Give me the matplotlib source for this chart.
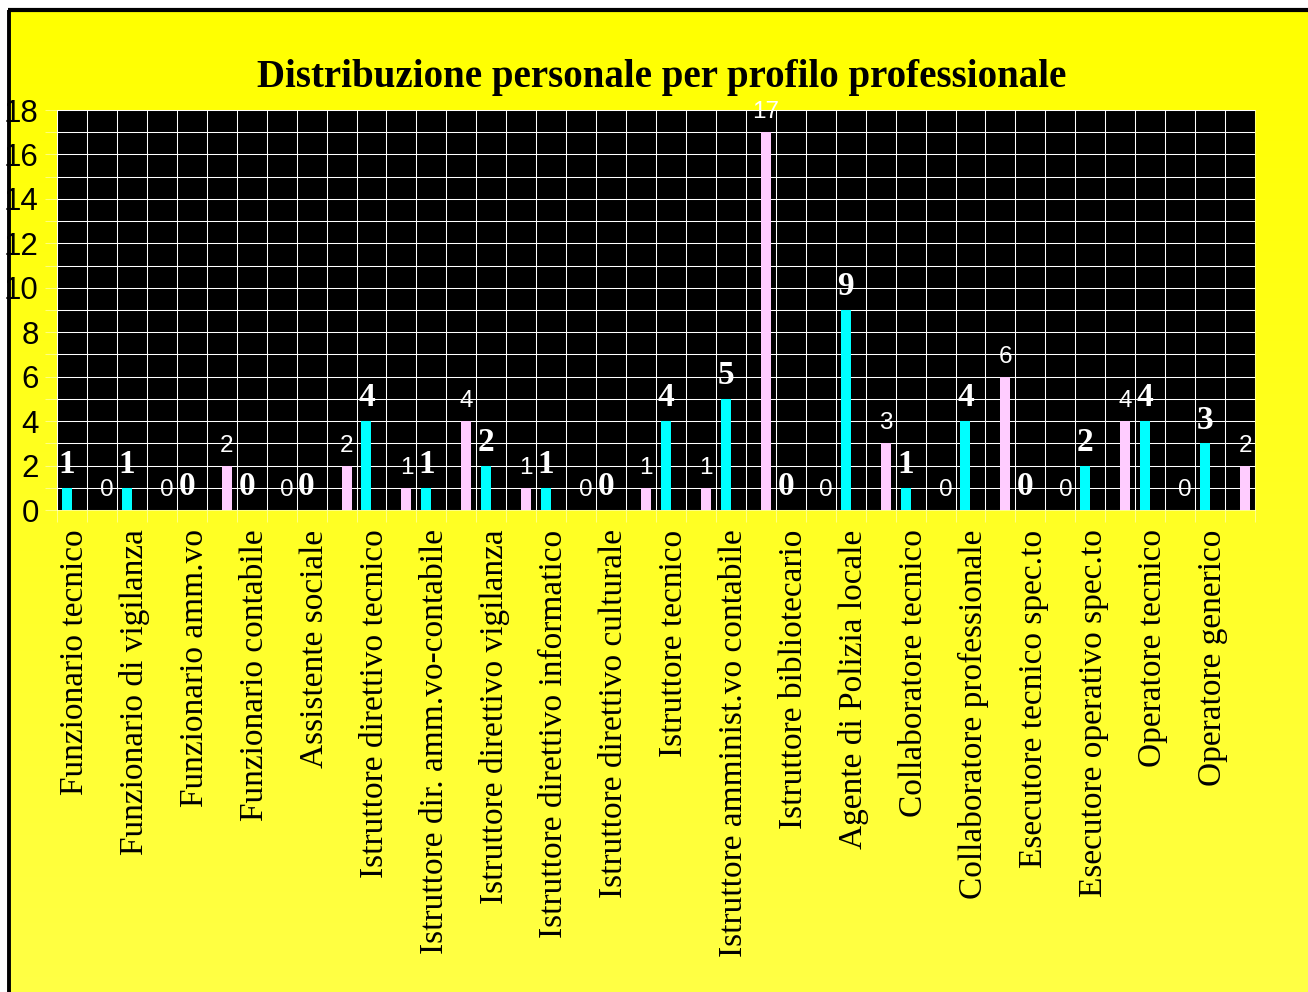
import numpy as np
import matplotlib
matplotlib.use("Agg")
import matplotlib.pyplot as plt
from matplotlib.lines import Line2D

categories = [
    "Funzionario tecnico", "Funzionario di vigilanza", "Funzionario amm.vo",
    "Funzionario contabile", "Assistente sociale", "Istruttore direttivo tecnico",
    "Istruttore dir. amm.vo-contabile", "Istruttore direttivo vigilanza",
    "Istruttore direttivo informatico", "Istruttore direttivo culturale",
    "Istruttore tecnico", "Istruttore amminist.vo contabile",
    "Istruttore bibliotecario", "Agente di Polizia locale", "Collaboratore tecnico",
    "Collaboratore professionale", "Esecutore tecnico spec.to",
    "Esecutore operativo spec.to", "Operatore tecnico", "Operatore generico",
]
cyan_values = [1, 1, 0, 0, 0, 4, 1, 2, 1, 0, 4, 5, 0, 9, 1, 4, 0, 2, 4, 3]
pink_values = [0, 0, 2, 0, 2, 1, 4, 1, 0, 1, 1, 17, 0, 3, 0, 6, 0, 4, 0, 2]
title = "Distribuzione personale per profilo professionale"

W, H = 1308, 992
fig = plt.figure(figsize=(W / 100, H / 100), dpi=100, facecolor="white")

# background gradient panel
bg = fig.add_axes([10 / W, 0, 1 - 10 / W, 1 - 11 / H], zorder=-10)
grad = np.linspace(0, 1, 256).reshape(-1, 1)
img = np.zeros((256, 1, 3))
img[..., 0] = 1.0
img[..., 1] = 1.0
img[..., 2] = 0.0 + 0.27 * grad[:, 0:1]
bg.imshow(img, aspect="auto", extent=[0, 1, 0, 1], origin="upper")
bg.set_axis_off()

# black border (top and left)
fig.add_artist(Line2D([8 / W, 1], [1 - 10 / H, 1 - 10 / H], color="black",
                      lw=3.0, transform=fig.transFigure, solid_capstyle="butt"))
fig.add_artist(Line2D([9 / W, 9 / W], [0, 1 - 10 / H], color="black",
                      lw=2.8, transform=fig.transFigure, solid_capstyle="butt"))

ax = fig.add_axes([57 / W, 1 - 510 / H, 1198 / W, 400 / H])
ax.set_facecolor("black")
n = len(categories)
x = np.arange(n)
bw = 0.167
off = 0.334
ax.bar(x - off, cyan_values, width=bw, color="#00FFFF", zorder=3)
ax.bar(x + off, pink_values, width=bw, color="#FFCCFF", zorder=3)

ax.set_xlim(-0.5, n - 0.5)
ax.set_ylim(0, 18)

gridc = (1, 1, 1, 0.45)
glw = 0.75
ax.set_yticks(np.arange(0, 19, 2))
ax.set_yticks(np.arange(0, 19, 1), minor=True)
ax.set_yticklabels([str(v) for v in range(0, 19, 2)],
                   fontfamily="Liberation Sans", fontsize=22.5)
ax.tick_params(axis="y", which="both", length=8.6, width=glw, color=gridc,
               pad=4.5, labelcolor="black")

ax.set_xticks(x - 0.2)
ax.set_xticklabels(categories, rotation=90, fontfamily="Liberation Serif",
                   fontsize=24, va="top", ha="center")
ax.set_xticks(np.arange(-0.5, n, 0.5), minor=True)
ax.tick_params(axis="x", which="major", length=0, pad=14)
ax.tick_params(axis="x", which="minor", length=8.6, width=glw, color=gridc)

ax.grid(which="minor", axis="x", color=gridc, lw=glw, zorder=1)
ax.grid(which="both", axis="y", color=gridc, lw=glw, zorder=1)
ax.set_axisbelow(True)
for s in ax.spines.values():
    s.set_color(gridc)
    s.set_linewidth(glw)

for xi, v in zip(x, cyan_values):
    ax.annotate(str(v), (xi - off, v), xytext=(0, 5.5), textcoords="offset points",
                ha="center", va="bottom", color="white", fontsize=24,
                fontfamily="Liberation Serif", fontweight="bold",
                annotation_clip=False, zorder=5)
for xi, v in zip(x, pink_values):
    ax.annotate(str(v), (xi + off, v), xytext=(0, 6.5), textcoords="offset points",
                ha="center", va="bottom", color="white", fontsize=17.5,
                fontfamily="Liberation Sans",
                annotation_clip=False, zorder=5)

fig.text(662 / W, 1 - 87 / H, title, ha="center", va="baseline",
         fontfamily="Liberation Serif", fontweight="bold", fontsize=28,
         color="black")

fig.savefig("out.png", dpi=100, facecolor="white")
